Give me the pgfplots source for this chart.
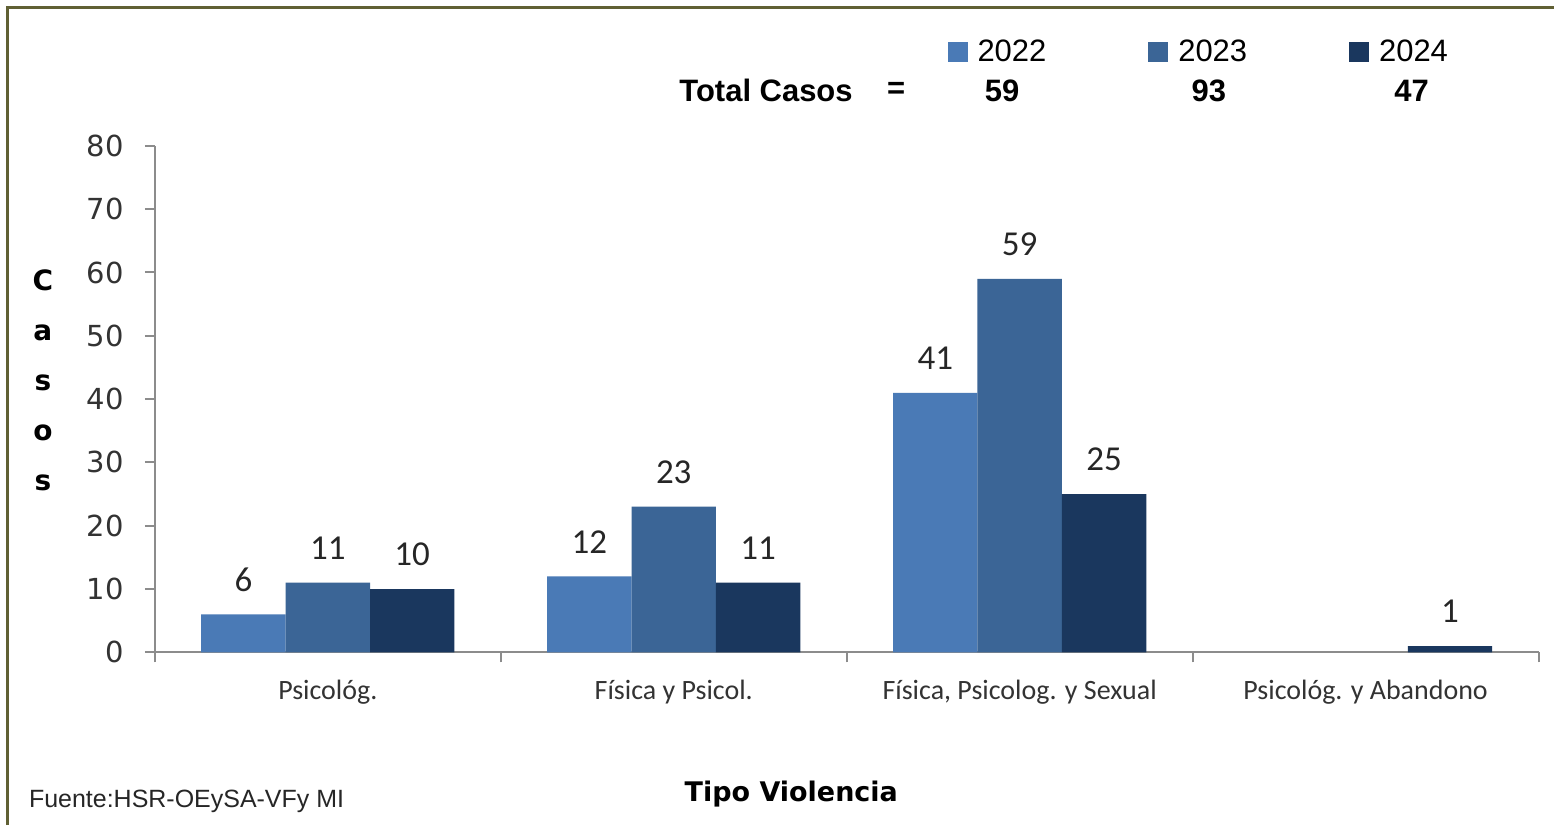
\documentclass[border=0pt]{standalone}
\usepackage{pgfplots}
\pgfplotsset{compat=1.18}
\usepackage{fontspec}
\setmainfont{Carlito}
\newfontfamily\arialf{Liberation Sans}
\newfontfamily\tahomaf{DejaVu Sans}
\definecolor{cA}{RGB}{74,122,182}
\definecolor{cB}{RGB}{59,101,150}
\definecolor{cC}{RGB}{26,55,94}
\definecolor{framec}{RGB}{96,96,52}
\definecolor{axc}{RGB}{140,140,140}
\begin{document}
\begin{tikzpicture}[x=1pt,y=1pt]
\fill[white] (0,0) rectangle (777.5,413);
\draw[framec, line width=1.5pt] (4,0) -- (4,409) -- (777.5,409);
\begin{axis}[
  at={(77.5pt,86.5pt)}, anchor=south west,
  scale only axis, width=692.5pt, height=253.5pt,
  xmin=-0.5, xmax=3.5, ymin=0, ymax=80,
  ybar=0pt, bar width=0.244,
  axis lines=left, axis line style={-, axc, line width=1pt},
  tick align=outside, major tick length=5pt,
  tick style={axc, line width=1pt},
  ytick={0,10,...,80},
  yticklabel style={font=\tahomaf\fontsize{14.5}{14.5}\selectfont, color=black!80, xshift=-7pt},
  /pgf/number format/assume math mode=true,
  xtick={-0.5,0.5,1.5,2.5,3.5}, xticklabels={},
  extra x ticks={0,1,2,3},
  extra x tick labels={Psicológ.,Física y Psicol.,{Física, Psicolog. y Sexual},Psicológ. y Abandono},
  extra x tick style={major tick length=0pt, tick label style={font=\fontsize{14}{14}\selectfont, color=black!80, yshift=-10.5pt}},
  ylabel={C\\a\\s\\o\\s},
  ylabel style={at={(axis description cs:-0.0809,0.5365)}, anchor=center, rotate=-90, align=center, font=\tahomaf\bfseries\fontsize{14}{25}\selectfont},
  nodes near coords,
  every node near coord/.append style={font=\fontsize{17.5}{17.5}\selectfont, color=black!85, yshift=8pt},
  legend image code/.code={\fill[#1] (0pt,-5pt) rectangle (10pt,5pt);},
  legend columns=3,
  legend style={at={(0.5726,1.185)}, anchor=west, draw=none, fill=none, inner sep=0pt,
    font=\arialf\fontsize{15.5}{15.5}\selectfont,
    /tikz/every odd column/.append style={column sep=3pt},
    /tikz/every even column/.append style={column sep=49pt}},
]
\addplot[fill=cA, draw=none] coordinates {(0,6) (1,12) (2,41)};
\addplot[fill=cB, draw=none] coordinates {(0,11) (1,23) (2,59)};
\addplot[fill=cC, draw=none] coordinates {(0,10) (1,11) (2,25) (3,1)};
\legend{2022,2023,2024}
\end{axis}
\node[anchor=west, font=\arialf\bfseries\fontsize{15.5}{15.5}\selectfont] at (336.5,367.5) {Total Casos};
\node[font=\arialf\bfseries\fontsize{15.5}{15.5}\selectfont] at (448.5,367.5) {=};
\node[font=\arialf\bfseries\fontsize{15.5}{15.5}\selectfont] at (501.5,367.5) {59};
\node[font=\arialf\bfseries\fontsize{15.5}{15.5}\selectfont] at (605,367.5) {93};
\node[font=\arialf\bfseries\fontsize{15.5}{15.5}\selectfont] at (706.5,367.5) {47};
\node[font=\tahomaf\bfseries\fontsize{13.5}{13.5}\selectfont] at (396,15.5) {Tipo Violencia};
\node[anchor=west, font=\arialf\fontsize{12.5}{12.5}\selectfont, color=black!85] at (11,12) {Fuente:HSR-OEySA-VFy MI};
\end{tikzpicture}
\end{document}
